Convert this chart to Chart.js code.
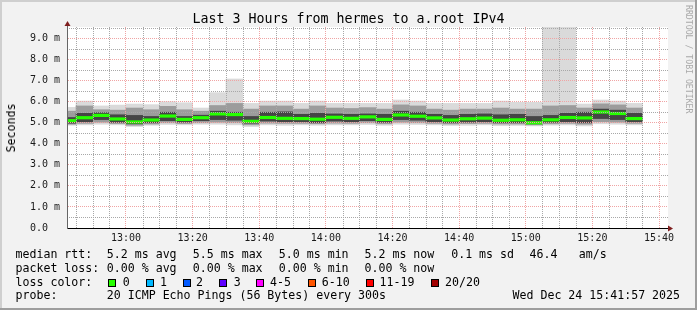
<!DOCTYPE html>
<html>
<head>
<meta charset="utf-8">
<script src="https://cdn.jsdelivr.net/npm/chart.js@4.4.0/dist/chart.umd.min.js"></script>
<style>
  html, body { margin: 0; padding: 0; background: #f2f2f2; }
  #wrap { position: relative; width: 697px; height: 310px; overflow: hidden; }
  #wrap canvas { position: absolute; left: 0; top: 0; }
  .t { position: absolute; font-family: 'DejaVu Sans Mono', monospace; font-size: 11.6px; line-height: 14px; white-space: pre; color: #000; }
  .sq { position: absolute; width: 8px; height: 8px; box-sizing: border-box; border: 1px solid #000; top: 278.5px; }
  #title { position: absolute; left: 0; top: 11.1px; width: 697px; text-align: center; font-family: 'DejaVu Sans Mono', monospace; font-size: 13.3px; line-height: 16px; white-space: pre; }
  #ylab { left: 11px; top: 127.5px; transform: translate(-50%, -50%) rotate(-90deg); }
  #mark { position: absolute; left: 683px; top: 5px; writing-mode: vertical-rl; font-family: 'DejaVu Sans Mono', monospace; font-size: 8.2px; line-height: 11px; color: #a9a9a9; white-space: pre; }
</style>
</head>
<body>
<div id="wrap">
  <canvas id="smoke" width="697" height="310"></canvas>
  <div id="title">Last 3 Hours from hermes to a.root IPv4</div>
  <div class="t" id="ylab">Seconds</div>
  <div id="mark">RRDTOOL / TOBI OETIKER</div>

  <div class="t" style="left:15.5px;top:247.3px">median rtt:</div>
  <div class="t" style="left:106.8px;top:247.3px">5.2 ms avg</div>
  <div class="t" style="left:192.8px;top:247.3px">5.5 ms max</div>
  <div class="t" style="left:278.8px;top:247.3px">5.0 ms min</div>
  <div class="t" style="left:364.5px;top:247.3px">5.2 ms now</div>
  <div class="t" style="left:451.2px;top:247.3px">0.1 ms sd</div>
  <div class="t" style="left:529.5px;top:247.3px">46.4</div>
  <div class="t" style="left:578.8px;top:247.3px">am/s</div>

  <div class="t" style="left:15.5px;top:261px">packet loss:</div>
  <div class="t" style="left:106.8px;top:261px">0.00 % avg</div>
  <div class="t" style="left:192.8px;top:261px">0.00 % max</div>
  <div class="t" style="left:278.8px;top:261px">0.00 % min</div>
  <div class="t" style="left:364.5px;top:261px">0.00 % now</div>

  <div class="t" style="left:15.5px;top:274.7px">loss color:</div>
  <div id="losskey"></div>

  <div class="t" style="left:15.5px;top:288.4px">probe:</div>
  <div class="t" style="left:106.8px;top:288.4px">20 ICMP Echo Pings (56 Bytes) every 300s</div>
  <div class="t" style="left:512.5px;top:288.4px">Wed Dec 24 15:41:57 2025</div>
</div>
<script>
(function(){
  'use strict';

  // 5 minute rrd steps, start of each slot
  const slots = [
    '12:40','12:45','12:50','12:55','13:00','13:05','13:10','13:15','13:20','13:25',
    '13:30','13:35','13:40','13:45','13:50','13:55','14:00','14:05','14:10','14:15',
    '14:20','14:25','14:30','14:35','14:40','14:45','14:50','14:55','15:00','15:05',
    '15:10','15:15','15:20','15:25','15:30'
  ];
  // values in ms
  const rttMedian = [
    5.10, 5.24, 5.35, 5.18, 5.04, 5.13, 5.32, 5.16, 5.24, 5.42,
    5.39, 5.07, 5.25, 5.21, 5.20, 5.17, 5.26, 5.21, 5.28, 5.16,
    5.37, 5.31, 5.23, 5.13, 5.19, 5.22, 5.12, 5.14, 5.00, 5.14,
    5.25, 5.23, 5.51, 5.44, 5.20
  ];
  const rttMax = [
    5.73, 6.03, 5.80, 5.84, 5.89, 5.86, 6.00, 5.95, 5.70, 6.43,
    7.08, 5.92, 6.03, 6.03, 5.92, 6.03, 5.92, 5.92, 5.92, 5.92,
    6.08, 6.03, 5.92, 5.92, 5.92, 5.92, 6.03, 5.97, 5.97, 9.60,
    9.60, 5.89, 6.08, 6.03, 5.92
  ];
  const rttUpper = [
    5.55, 5.80, 5.62, 5.60, 5.70, 5.62, 5.78, 5.62, 5.55, 5.82,
    5.92, 5.65, 5.80, 5.80, 5.65, 5.80, 5.70, 5.68, 5.72, 5.65,
    5.85, 5.80, 5.65, 5.60, 5.65, 5.65, 5.70, 5.65, 5.65, 5.80,
    5.82, 5.70, 5.90, 5.85, 5.70
  ];
  const rttCoreHigh = [
    5.25, 5.45, 5.48, 5.38, 5.35, 5.30, 5.50, 5.30, 5.36, 5.55,
    5.50, 5.30, 5.50, 5.52, 5.40, 5.45, 5.42, 5.40, 5.42, 5.40,
    5.55, 5.50, 5.40, 5.35, 5.40, 5.42, 5.38, 5.40, 5.30, 5.35,
    5.45, 5.50, 5.65, 5.60, 5.45
  ];
  const rttCoreLow = [
    4.98, 5.05, 5.15, 5.02, 4.95, 5.00, 5.10, 5.03, 5.10, 5.15,
    5.12, 4.98, 5.08, 5.05, 5.05, 5.00, 5.08, 5.05, 5.10, 5.02,
    5.15, 5.12, 5.05, 5.00, 5.03, 5.05, 5.00, 5.00, 4.95, 5.02,
    5.05, 5.00, 5.20, 5.15, 5.05
  ];
  const rttLower = [
    4.93, 4.97, 5.02, 4.96, 4.88, 4.94, 5.00, 4.96, 5.00, 5.02,
    5.00, 4.90, 4.98, 4.97, 4.97, 4.95, 4.98, 4.97, 5.00, 4.95,
    5.02, 5.00, 4.97, 4.94, 4.96, 4.97, 4.94, 4.94, 4.90, 4.95,
    4.97, 4.93, 5.05, 5.02, 4.97
  ];
  const rttMin = [
    4.88, 4.90, 4.93, 4.90, 4.82, 4.88, 4.92, 4.90, 4.93, 4.93,
    4.90, 4.82, 4.90, 4.88, 4.90, 4.88, 4.90, 4.90, 4.92, 4.88,
    4.93, 4.92, 4.90, 4.87, 4.88, 4.90, 4.86, 4.87, 4.85, 4.88,
    4.90, 4.85, 4.95, 4.93, 4.90
  ];
  const xTickLabels = ['13:00','13:20','13:40','14:00','14:20','14:40','15:00','15:20','15:40'];
  const yTickLabels = ['0.0  ','1.0 m','2.0 m','3.0 m','4.0 m','5.0 m','6.0 m','7.0 m','8.0 m','9.0 m'];
  const lossLabels = ['0','1','2','3','4-5','6-10','11-19','20/20'];
  const lossColors = ['#26ff00','#00b8ff','#0059ff','#5e00ff','#ff00ff','#ff5500','#ff0000','#a10000'];

  const STEP = 5;
  const X_MIN = 762.29, X_MAX = 942.7;   // 12:42:17 .. 15:42:42
  const Y_MAX = 9.55;
  const MEDIAN_HALF = 0.06;
  const MONO = 'DejaVu Sans Mono';
  const MAJOR = '#f0a4a4';
  const MINOR = '#a8a8a8';

  // loss color key under the graph
  const keySquares = [108.3, 145.7, 182.7, 219.3, 256, 307.7, 365.7, 430.7];
  const keyText = [122.7, 160.1, 196.1, 233.7, 270.1, 321.7, 379.5, 445.1];
  const key = document.getElementById('losskey');
  lossLabels.forEach((lab, i) => {
    const sq = document.createElement('span');
    sq.className = 'sq';
    sq.style.left = keySquares[i] + 'px';
    sq.style.background = lossColors[i];
    key.appendChild(sq);
    const tx = document.createElement('div');
    tx.className = 't';
    tx.style.left = keyText[i] + 'px';
    tx.style.top = '274.7px';
    tx.textContent = lab;
    key.appendChild(tx);
  });

  const toMin = (s) => { const p = s.split(':').map(Number); return p[0] * 60 + p[1]; };
  const centers = slots.map((s) => toMin(s) + STEP / 2);
  const band = (lo, hi) => centers.map((x, i) => ({ x, y: [lo[i], hi[i]] }));
  const labelAt = new Map(xTickLabels.map((l) => [toMin(l), l]));

  const common = { grouped: false, barPercentage: 1, categoryPercentage: 1, borderWidth: 0, clip: 0 };

  // rrdtool style minor grid: dotted lines drawn over the smoke
  const minorGrid = {
    id: 'minorGrid',
    afterDatasetsDraw(chart) {
      const { ctx, chartArea: a, scales: { x, y } } = chart;
      ctx.save();
      ctx.strokeStyle = MINOR;
      ctx.lineWidth = 1;
      ctx.setLineDash([1, 1]);
      x.ticks.forEach((t) => {
        if (labelAt.has(t.value)) return;
        const px = Math.round(x.getPixelForValue(t.value)) + 0.5;
        ctx.beginPath(); ctx.moveTo(px, a.top); ctx.lineTo(px, a.bottom); ctx.stroke();
      });
      for (let v = 0.5; v < Y_MAX; v += 1) {
        const py = Math.round(y.getPixelForValue(v)) + 0.5;
        ctx.beginPath(); ctx.moveTo(a.left, py); ctx.lineTo(a.right, py); ctx.stroke();
      }
      ctx.restore();
    }
  };

  const frame = {
    id: 'frame',
    beforeDraw(chart) {
      const { ctx, chartArea: a, width: w, height: h } = chart;
      ctx.save();
      ctx.fillStyle = '#f2f2f2';
      ctx.fillRect(0, 0, w, h);
      ctx.fillStyle = '#cfcfcf';
      ctx.fillRect(0, 0, w, 2);
      ctx.fillRect(0, 0, 2, h);
      ctx.fillStyle = '#9e9e9e';
      ctx.fillRect(0, h - 2, w, 2);
      ctx.fillRect(w - 2, 0, 2, h);
      ctx.fillStyle = '#ffffff';
      ctx.fillRect(a.left, a.top, a.right - a.left, a.bottom - a.top);
      ctx.restore();
    },
    afterDraw(chart) {
      const { ctx, chartArea: a } = chart;
      ctx.save();
      ctx.strokeStyle = '#666666';
      ctx.lineWidth = 1;
      ctx.beginPath();
      ctx.moveTo(a.left + 0.5, a.top);
      ctx.lineTo(a.left + 0.5, a.top - 4);
      ctx.stroke();
      ctx.strokeStyle = '#000000';
      ctx.beginPath();
      ctx.moveTo(a.right, a.bottom + 0.5);
      ctx.lineTo(a.right + 1, a.bottom + 0.5);
      ctx.stroke();
      ctx.fillStyle = '#7f1f1f';
      ctx.beginPath();
      ctx.moveTo(a.left - 2.5, a.top - 1);
      ctx.lineTo(a.left + 3.5, a.top - 1);
      ctx.lineTo(a.left + 0.5, a.top - 6);
      ctx.closePath();
      ctx.fill();
      ctx.beginPath();
      ctx.moveTo(a.right, a.bottom - 2.5);
      ctx.lineTo(a.right, a.bottom + 3.5);
      ctx.lineTo(a.right + 5, a.bottom + 0.5);
      ctx.closePath();
      ctx.fill();
      ctx.restore();
    }
  };

  new Chart(document.getElementById('smoke').getContext('2d'), {
    type: 'bar',
    data: {
      datasets: [
        Object.assign({ label: 'median', order: 0, backgroundColor: '#26ff00',
          data: centers.map((x, i) => ({ x, y: [rttMedian[i] - MEDIAN_HALF, rttMedian[i] + MEDIAN_HALF] })) }, common),
        Object.assign({ label: 'core', order: 1, backgroundColor: '#454545', data: band(rttCoreLow, rttCoreHigh) }, common),
        Object.assign({ label: 'mid', order: 2, backgroundColor: '#9c9c9c', data: band(rttLower, rttUpper) }, common),
        Object.assign({ label: 'outer', order: 3, backgroundColor: '#dadada', data: band(rttMin, rttMax) }, common)
      ]
    },
    options: {
      responsive: false,
      devicePixelRatio: 1,
      animation: false,
      events: [],
      layout: { padding: { top: 27, right: 29, bottom: 0, left: 0 } },
      plugins: { legend: { display: false }, tooltip: { enabled: false } },
      scales: {
        x: {
          type: 'linear', min: X_MIN, max: X_MAX, offset: false, bounds: 'data',
          afterBuildTicks: (s) => {
            const t = [];
            for (let v = Math.ceil(X_MIN / STEP) * STEP; v <= X_MAX; v += STEP) t.push({ value: v });
            s.ticks = t;
          },
          afterFit: (s) => { s.height = 82; },
          grid: { offset: false, drawTicks: false, lineWidth: 1, z: 1,
            color: (c) => (c.tick && labelAt.has(c.tick.value) ? MAJOR : 'rgba(0,0,0,0)') },
          border: { display: true, color: '#000000', width: 1, dash: [1, 1], z: 2 },
          ticks: { autoSkip: false, maxRotation: 0, padding: 4, color: '#1a1a1a',
            font: { family: MONO, size: 10 },
            callback: (v) => labelAt.get(v) || '' }
        },
        y: {
          min: 0, max: Y_MAX, bounds: 'data',
          afterBuildTicks: (s) => {
            const t = [];
            for (let v = 0; v < Y_MAX; v += 1) t.push({ value: v });
            s.ticks = t;
          },
          afterFit: (s) => { s.width = 67; },
          grid: { drawTicks: false, lineWidth: 1, z: 1, color: MAJOR },
          border: { display: true, color: '#666666', width: 1, dash: [1, 1], z: 2 },
          ticks: { autoSkip: false, padding: 7, color: '#1a1a1a', font: { family: MONO, size: 10 },
            callback: (v) => yTickLabels[v] }
        }
      }
    },
    plugins: [frame, minorGrid]
  });
})();
</script>
</body>
</html>
